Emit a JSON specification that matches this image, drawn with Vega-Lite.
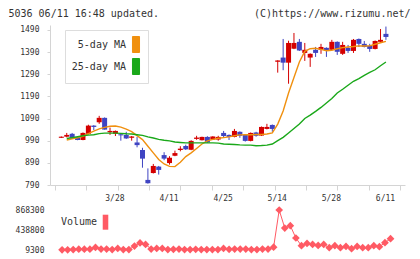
{
  "$schema": "https://vega.github.io/schema/vega-lite/v6.json",
  "background": "white",
  "padding": {"left": 8, "top": 8, "right": 4, "bottom": 2},
  "config": {
    "view": {"stroke": null},
    "font": "DejaVu Sans Mono",
    "axis": {"labelFont": "DejaVu Sans Mono", "titleFont": "DejaVu Sans Mono", "labelOverlap": false, "labelFlush": false},
    "legend": {"labelFont": "DejaVu Sans Mono"}
  },
  "datasets": {
    "d": [
      {"i":0,"date":"3/13","open":1003,"high":1009,"low":1002,"close":1008},
      {"i":1,"date":"3/14","open":1008,"high":1025,"low":1005,"close":1016,"ma5":993,"ma25":1000,"vol":12000},
      {"i":2,"date":"3/15","open":1021,"high":1025,"low":998,"close":1000,"ma5":998,"ma25":1004,"vol":12000},
      {"i":3,"date":"3/18","open":1007,"high":1010,"low":992,"close":993,"ma5":1003,"ma25":1008,"vol":18000},
      {"i":4,"date":"3/19","open":993,"high":1027,"low":992,"close":1025,"ma5":1010,"ma25":1012,"vol":28000},
      {"i":5,"date":"3/21","open":1021,"high":1062,"low":1018,"close":1058,"ma5":1022,"ma25":1015,"vol":28000},
      {"i":6,"date":"3/22","open":1058,"high":1060,"low":1038,"close":1052,"ma5":1033,"ma25":1017,"vol":28000},
      {"i":7,"date":"3/25","open":1073,"high":1102,"low":1066,"close":1093,"ma5":1043,"ma25":1022,"vol":65000},
      {"i":8,"date":"3/26","open":1093,"high":1095,"low":1040,"close":1040,"ma5":1050,"ma25":1024,"vol":30000},
      {"i":9,"date":"3/27","open":1028,"high":1049,"low":1016,"close":1034,"ma5":1055,"ma25":1024,"vol":30000},
      {"i":10,"date":"3/28","open":1021,"high":1036,"low":1011,"close":1034,"ma5":1056,"ma25":1024,"vol":18000},
      {"i":11,"date":"3/29","open":1019,"high":1021,"low":990,"close":1014,"ma5":1051,"ma25":1023,"vol":42000},
      {"i":12,"date":"4/1","open":1016,"high":1030,"low":998,"close":1000,"ma5":1042,"ma25":1021,"vol":18000},
      {"i":13,"date":"4/2","open":1003,"high":1011,"low":990,"close":1009,"ma5":1031,"ma25":1020,"vol":18000},
      {"i":14,"date":"4/3","open":982,"high":1007,"low":960,"close":970,"ma5":1013,"ma25":1017,"vol":95000},
      {"i":15,"date":"4/4","open":948,"high":958,"low":868,"close":909,"ma5":995,"ma25":1014,"vol":160000},
      {"i":16,"date":"4/5","open":813,"high":865,"low":796,"close":798,"ma5":965,"ma25":1007,"vol":130000},
      {"i":17,"date":"4/8","open":844,"high":885,"low":842,"close":876,"ma5":935,"ma25":1002,"vol":30000},
      {"i":18,"date":"4/9","open":873,"high":876,"low":837,"close":858,"ma5":905,"ma25":996,"vol":42000},
      {"i":19,"date":"4/10","open":925,"high":938,"low":902,"close":909,"ma5":885,"ma25":992,"vol":42000},
      {"i":20,"date":"4/11","open":889,"high":920,"low":882,"close":913,"ma5":874,"ma25":989,"vol":18000},
      {"i":21,"date":"4/12","open":922,"high":945,"low":920,"close":934,"ma5":873,"ma25":984,"vol":24000},
      {"i":22,"date":"4/15","open":948,"high":965,"low":942,"close":954,"ma5":893,"ma25":982,"vol":30000},
      {"i":23,"date":"4/16","open":966,"high":972,"low":948,"close":951,"ma5":918,"ma25":980,"vol":18000},
      {"i":24,"date":"4/17","open":949,"high":992,"low":947,"close":989,"ma5":935,"ma25":980,"vol":18000},
      {"i":25,"date":"4/18","open":998,"high":1012,"low":994,"close":1004,"ma5":955,"ma25":980,"vol":24000},
      {"i":26,"date":"4/19","open":992,"high":1008,"low":991,"close":1007,"ma5":975,"ma25":980,"vol":18000},
      {"i":27,"date":"4/22","open":1007,"high":1010,"low":980,"close":982,"ma5":989,"ma25":980,"vol":18000},
      {"i":28,"date":"4/23","open":995,"high":1010,"low":994,"close":1009,"ma5":996,"ma25":980,"vol":18000},
      {"i":29,"date":"4/24","open":995,"high":1012,"low":990,"close":1007,"ma5":1001,"ma25":979,"vol":18000},
      {"i":30,"date":"4/25","open":1025,"high":1034,"low":1003,"close":1011,"ma5":1004,"ma25":975,"vol":42000},
      {"i":31,"date":"4/26","open":1016,"high":1018,"low":993,"close":1007,"ma5":1007,"ma25":974,"vol":24000},
      {"i":32,"date":"4/30","open":1007,"high":1043,"low":1005,"close":1034,"ma5":1012,"ma25":973,"vol":30000},
      {"i":33,"date":"5/1","open":1030,"high":1032,"low":1003,"close":1012,"ma5":1016,"ma25":971,"vol":30000},
      {"i":34,"date":"5/2","open":1016,"high":1018,"low":986,"close":989,"ma5":1017,"ma25":970,"vol":30000},
      {"i":35,"date":"5/7","open":989,"high":1027,"low":987,"close":1025,"ma5":1017,"ma25":970,"vol":18000},
      {"i":36,"date":"5/8","open":1027,"high":1030,"low":1008,"close":1012,"ma5":1018,"ma25":967,"vol":18000},
      {"i":37,"date":"5/9","open":1013,"high":1054,"low":1011,"close":1052,"ma5":1018,"ma25":968,"vol":30000},
      {"i":38,"date":"5/10","open":1043,"high":1066,"low":1041,"close":1052,"ma5":1020,"ma25":970,"vol":30000},
      {"i":39,"date":"5/13","open":1061,"high":1063,"low":1030,"close":1043,"ma5":1025,"ma25":975,"vol":70000},
      {"i":40,"date":"5/14","open":1346,"high":1353,"low":1297,"close":1352,"ma5":1065,"ma25":990,"vol":868300},
      {"i":41,"date":"5/15","open":1365,"high":1449,"low":1308,"close":1342,"ma5":1124,"ma25":1005,"vol":481000},
      {"i":42,"date":"5/16","open":1342,"high":1441,"low":1247,"close":1431,"ma5":1205,"ma25":1025,"vol":531000},
      {"i":43,"date":"5/17","open":1405,"high":1476,"low":1403,"close":1431,"ma5":1275,"ma25":1045,"vol":267000},
      {"i":44,"date":"5/20","open":1436,"high":1449,"low":1395,"close":1397,"ma5":1345,"ma25":1065,"vol":101000},
      {"i":45,"date":"5/21","open":1386,"high":1431,"low":1350,"close":1400,"ma5":1393,"ma25":1090,"vol":151000},
      {"i":46,"date":"5/22","open":1365,"high":1384,"low":1323,"close":1382,"ma5":1405,"ma25":1105,"vol":130000},
      {"i":47,"date":"5/23","open":1400,"high":1413,"low":1368,"close":1386,"ma5":1407,"ma25":1122,"vol":108000},
      {"i":48,"date":"5/24","open":1400,"high":1427,"low":1382,"close":1413,"ma5":1402,"ma25":1140,"vol":130000},
      {"i":49,"date":"5/27","open":1409,"high":1411,"low":1368,"close":1395,"ma5":1396,"ma25":1160,"vol":58000},
      {"i":50,"date":"5/28","open":1400,"high":1445,"low":1398,"close":1436,"ma5":1398,"ma25":1180,"vol":101000},
      {"i":51,"date":"5/29","open":1436,"high":1438,"low":1377,"close":1391,"ma5":1405,"ma25":1205,"vol":58000},
      {"i":52,"date":"5/30","open":1382,"high":1436,"low":1377,"close":1422,"ma5":1410,"ma25":1222,"vol":87000},
      {"i":53,"date":"5/31","open":1409,"high":1422,"low":1386,"close":1395,"ma5":1413,"ma25":1240,"vol":37000},
      {"i":54,"date":"6/3","open":1395,"high":1449,"low":1386,"close":1445,"ma5":1415,"ma25":1258,"vol":87000},
      {"i":55,"date":"6/4","open":1449,"high":1451,"low":1413,"close":1427,"ma5":1418,"ma25":1270,"vol":58000},
      {"i":56,"date":"6/5","open":1427,"high":1440,"low":1411,"close":1413,"ma5":1417,"ma25":1285,"vol":58000},
      {"i":57,"date":"6/6","open":1418,"high":1427,"low":1391,"close":1404,"ma5":1418,"ma25":1298,"vol":101000},
      {"i":58,"date":"6/7","open":1404,"high":1442,"low":1402,"close":1440,"ma5":1425,"ma25":1310,"vol":80000},
      {"i":59,"date":"6/10","open":1436,"high":1494,"low":1434,"close":1445,"ma5":1432,"ma25":1328,"vol":166000},
      {"i":60,"date":"6/11","open":1472,"high":1505,"low":1445,"close":1458,"ma5":1438,"ma25":1345,"vol":252000}
    ]
  },
  "spacing": 4,
  "resolve": {"scale": {"color": "independent"}, "legend": {"color": "independent"}},
  "vconcat": [
    {
      "width": 355,
      "height": 160,
      "data": {"name": "d"},
      "resolve": {"axis": {"x": "independent", "y": "independent"}},
      "layer": [
        {
          "mark": {"type": "rule", "strokeWidth": 1},
          "encoding": {
            "x": {
              "field": "i", "type": "quantitative",
              "scale": {"domain": [-1.17, 62.6], "nice": false, "zero": false},
              "axis": {
                "orient": "bottom",
                "values": [-1.17, 4.63, 10.42, 16.22, 22.02, 27.82, 33.61, 39.41, 45.21, 51.0, 56.8, 62.6],
                "labels": false, "grid": false,
                "domainColor": "#d4d4d4", "tickColor": "#d4d4d4", "tickSize": 5,
                "title": null
              }
            },
            "y": {
              "field": "low", "type": "quantitative",
              "scale": {"domain": [790, 1512], "nice": false, "zero": false},
              "axis": {
                "orient": "left",
                "values": [790, 890, 990, 1090, 1190, 1290, 1390, 1490],
                "format": "d", "labelOverlap": false,
                "grid": false,
                "domainColor": "#d4d4d4", "tickColor": "#d4d4d4", "tickSize": 3,
                "labelPadding": 8, "labelFontSize": 8, "labelColor": "#333333",
                "title": "5036 06/11 16:48 updated.",
                "titleAngle": 0, "titleX": -42, "titleY": -8.5,
                "titleAlign": "left", "titleBaseline": "alphabetic",
                "titleFontSize": 10, "titleFontWeight": "normal", "titleColor": "#333333"
              }
            },
            "y2": {"field": "high"},
            "color": {"condition": {"test": "datum.close >= datum.open", "value": "#d40000"}, "value": "#3f44c2"}
          }
        },
        {
          "mark": {"type": "bar", "size": 5},
          "encoding": {
            "x": {
              "field": "i", "type": "quantitative",
              "axis": {
                "orient": "bottom",
                "values": [10, 20, 30, 40, 50, 60],
                "labelExpr": "datum.value == 10 ? '3/28' : datum.value == 20 ? '4/11' : datum.value == 30 ? '4/25' : datum.value == 40 ? '5/14' : datum.value == 50 ? '5/28' : '6/11'",
                "labelOverlap": false,
                "domain": false, "ticks": false, "grid": false,
                "labelPadding": 9, "labelOffset": -1, "labelFontSize": 8, "labelColor": "#333333",
                "title": "(C)https://www.rizumu.net/",
                "titleX": 360, "titleY": -168.5, "titleAlign": "right", "titleBaseline": "alphabetic",
                "titleAngle": 0, "titleFontSize": 10, "titleFontWeight": "normal", "titleColor": "#333333"
              }
            },
            "y": {"field": "open", "type": "quantitative", "axis": null},
            "y2": {"field": "close"},
            "color": {"condition": {"test": "datum.close >= datum.open", "value": "#d40000"}, "value": "#3f44c2"}
          }
        },
        {
          "transform": [{"fold": ["ma5", "ma25"], "as": ["series", "value"]}],
          "mark": {"type": "line", "strokeWidth": 1.4},
          "encoding": {
            "x": {"field": "i", "type": "quantitative", "axis": null},
            "y": {"field": "value", "type": "quantitative", "axis": null},
            "color": {
              "field": "series", "type": "nominal",
              "scale": {"domain": ["ma5", "ma25"], "range": ["#f0900f", "#1aa81a"]},
              "legend": {
                "orient": "none", "legendX": 15, "legendY": 5, "direction": "vertical",
                "title": null,
                "labelExpr": "datum.value == 'ma5' ? '5-day MA' : '25-day MA'",
                "labelAlign": "right", "labelOffset": -18.5, "symbolOffset": 56.5,
                "symbolType": "M-0.44,-1H0.44V1H-0.44Z", "symbolSize": 256,
                "symbolStrokeWidth": 1,
                "labelFontSize": 10, "labelColor": "#333333",
                "fillColor": "white", "strokeColor": "#dddddd", "padding": 6, "rowPadding": 1,
                "encode": {
                  "symbols": {
                    "update": {
                      "fill": {"signal": "datum.value == 'ma5' ? '#f0900f' : '#1aa81a'"},
                      "stroke": {"value": "#333333"},
                      "strokeWidth": {"value": 1},
                      "opacity": {"value": 1}
                    }
                  }
                }
              }
            }
          }
        }
      ]
    },
    {
      "width": 355,
      "height": 40,
      "data": {"name": "d"},
      "resolve": {"axis": {"y": "independent"}},
      "layer": [
        {
          "mark": {"type": "line", "color": "#ff5a64", "strokeWidth": 1},
          "encoding": {
            "x": {"field": "i", "type": "quantitative", "scale": {"domain": [-1.17, 62.6], "nice": false, "zero": false}, "axis": null},
            "y": {
              "field": "vol", "type": "quantitative",
              "scale": {"domain": [9300, 868300], "nice": false, "zero": false},
              "axis": {
                "orient": "left",
                "values": [9300, 438800, 868300], "format": "d", "labelOverlap": false,
                "grid": false, "domain": false, "ticks": false, "tickSize": 0,
                "labelPadding": 6, "labelFontSize": 8, "labelColor": "#333333", "title": null
              }
            }
          }
        },
        {
          "mark": {"type": "point", "shape": "diamond", "filled": true, "size": 60, "opacity": 1},
          "encoding": {
            "x": {"field": "i", "type": "quantitative"},
            "y": {"field": "vol", "type": "quantitative", "axis": null},
            "color": {
              "datum": "Volume",
              "scale": {"domain": ["Volume"], "range": ["#ff5a64"]},
              "legend": {
                "orient": "none", "legendX": 9, "legendY": 3.7, "title": null,
                "labelAlign": "right", "labelOffset": -17, "symbolOffset": 38,
                "symbolType": "M-0.37,-1H0.37V1H-0.37Z", "symbolSize": 225,
                "labelFontSize": 10, "labelColor": "#333333", "padding": 0,
                "encode": {
                  "symbols": {
                    "update": {
                      "fill": {"value": "#ff5a64"},
                      "stroke": {"value": "#333333"},
                      "strokeWidth": {"value": 1},
                      "opacity": {"value": 1}
                    }
                  }
                }
              }
            }
          }
        }
      ]
    }
  ]
}
